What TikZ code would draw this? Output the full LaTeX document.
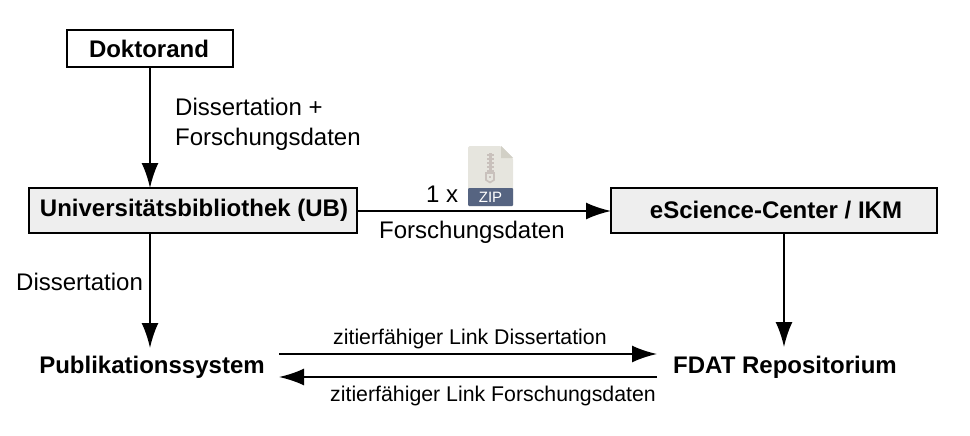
\documentclass[tikz,border=0pt]{standalone}
\usepackage{fontspec}
\setmainfont{Liberation Sans}
\usetikzlibrary{arrows.meta}
\definecolor{boxfill}{HTML}{EEEEEE}
\definecolor{zipbody}{HTML}{E6E5DE}
\definecolor{zipfold}{HTML}{D2D0C6}
\definecolor{zipband}{HTML}{566481}
\definecolor{zipper}{HTML}{C9C1BC}
\tikzset{
  x=1pt,y=-1pt,
  boxbase/.style={draw=black,line width=2pt,inner sep=0pt,font=\fontsize{24}{24}\selectfont\bfseries,text=black},
  plainbox/.style={boxbase,fill=white,minimum width=166pt,minimum height=37pt},
  greybox/.style={boxbase,fill=boxfill,minimum width=328pt,minimum height=45pt},
  system/.style={font=\fontsize{24}{24}\selectfont\bfseries,inner sep=0pt},
  lab/.style={font=\fontsize{24}{24}\selectfont,inner sep=0pt,anchor=base west},
  smalllab/.style={font=\fontsize{21.3}{21.3}\selectfont,inner sep=0pt,anchor=base west},
  flow/.style={line width=2pt,-{Latex[length=25pt,width=17pt,sharp]}},
}
\begin{document}
\begin{tikzpicture}
\useasboundingbox (0,0) rectangle (970,436);
\node[plainbox] (dok) at (150,48.5) {\hspace*{-2pt}Doktorand};
\node[greybox] (ub) at (193,210.5) {\hspace*{2pt}Universitätsbibliothek (UB)};
\node[greybox,minimum width=326pt] (esc) at (774,210.5) {\hspace*{4pt}eScience-Center / IKM};
\node[system] (pub) at (152,367.5) {Publikationssystem};
\node[system] (fdat) at (785,367.5) {FDAT Repositorium};
\coordinate (ubd) at (150,233);
\coordinate (ubu) at (150,188);
\coordinate (ubr) at (357,211);
\coordinate (escl) at (611,211);
\coordinate (pubu) at (150,348);
\coordinate (escd) at (784,233);
\coordinate (fdatu) at (784,347);
\coordinate (la) at (279,354);
\coordinate (lb) at (657,354);
\coordinate (lc) at (657,377);
\coordinate (ld) at (279,377);
\draw[flow] (dok.south -| ubu) -- (ubu);
\draw[flow] (ubr) -- (escl);
\draw[flow] (ubd) -- (pubu);
\draw[flow] (escd) -- (fdatu);
\draw[flow] (la) -- (lb);
\draw[flow] (lc) -- (ld);
\node[lab] (t1) at (175,115) {Dissertation +};
\node[lab] (t2) at (175,145) {Forschungsdaten};
\node[lab] (t3) at (426,202) {1 x};
\node[lab] (t4) at (379,238) {Forschungsdaten};
\node[lab] (t5) at (16,290) {Dissertation};
\node[smalllab] (t6) at (333,344) {zitierfähiger Link Dissertation};
\node[smalllab] (t7) at (330,401) {zitierfähiger Link Forschungsdaten};
% ZIP file icon
\fill[zipbody,rounded corners=1.5pt] (468,146) -- (501,146) -- (513,158) -- (513,206) -- (468,206) -- cycle;
\fill[zipfold] (501,146) -- (513,158) -- (501,158) -- cycle;
\fill[zipband,rounded corners=1pt] (468,188) rectangle (513,206);
\fill[zipper] (488.5,153) rectangle (491.5,172);
\foreach \y in {154,158,162,166,170} \fill[zipper] (486.5,\y) rectangle (493.5,\y+1.6);
\draw[zipper,line width=1.6pt] (486,173) -- (494,173) -- (494,180) -- (490,182.5) -- (486,180) -- cycle;
\fill[zipper] (489,175.5) rectangle (491,178);
\node[font=\fontsize{15}{15}\selectfont,text=white,inner sep=0pt] (ziptext) at (490.5,197.5) {ZIP};
\end{tikzpicture}
\end{document}
